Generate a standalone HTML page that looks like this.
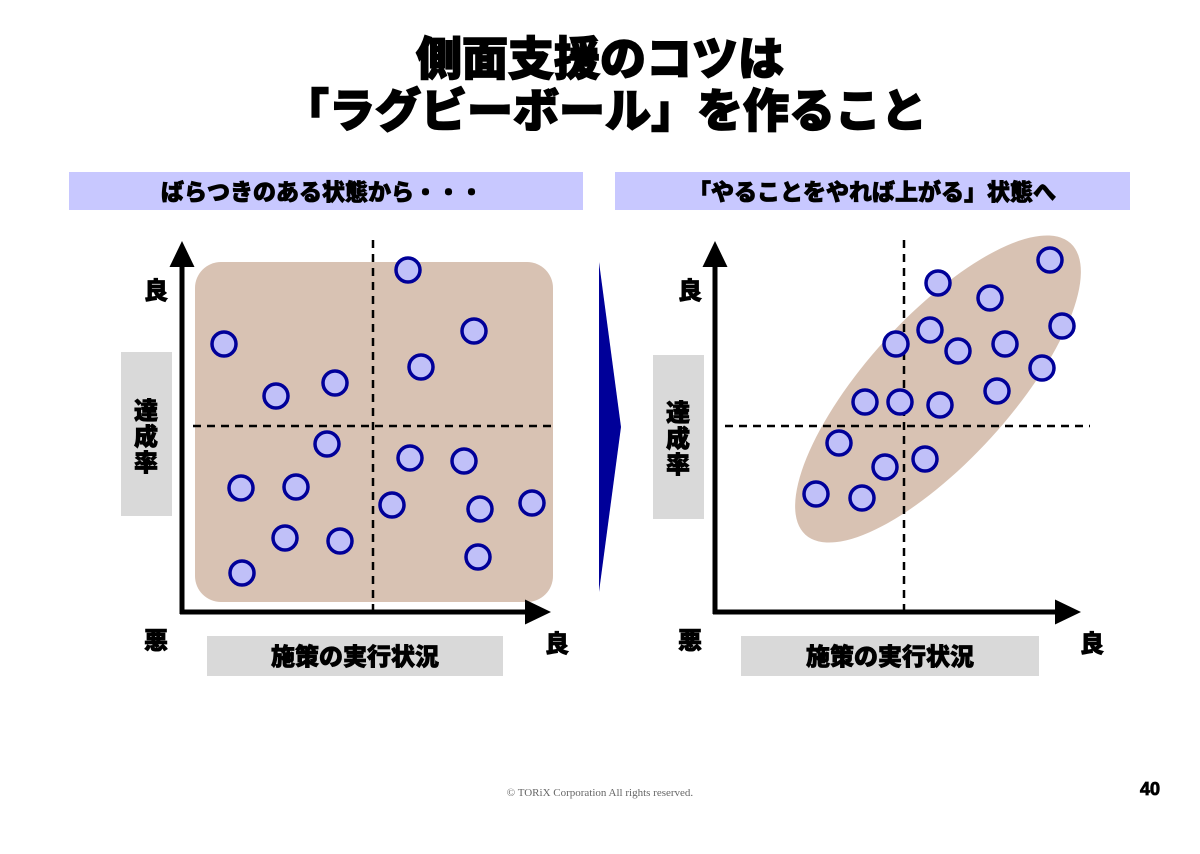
<!DOCTYPE html>
<html><head><meta charset="utf-8"><style>
body{margin:0;width:1200px;height:849px;background:#fff;overflow:hidden}
svg text{font-family:"Liberation Sans","Noto Sans CJK JP",sans-serif;font-weight:900}
.b{stroke:#000;stroke-width:0.8}
</style></head><body>
<svg width="1200" height="849" viewBox="0 0 1200 849" xmlns="http://www.w3.org/2000/svg">
<defs>
<marker id="ah" markerWidth="5.2" markerHeight="5" refX="1" refY="2.5" orient="auto" markerUnits="strokeWidth"><path d="M0,0 L5.2,2.5 L0,5 z" fill="#000"/></marker>
</defs>
<text class="b" x="600" y="75" font-size="46" text-anchor="middle" style="stroke-width:1.5">側面支援のコツは</text>
<text class="b" x="605" y="127" font-size="46" text-anchor="middle" style="stroke-width:1.5">「ラグビーボール」を作ること</text>
<rect x="69" y="172" width="514" height="38" fill="#c8c8ff"/>
<text class="b" x="322" y="200" font-size="23" text-anchor="middle">ばらつきのある状態から・・・</text>
<rect x="615" y="172" width="515" height="38" fill="#c8c8ff"/>
<text class="b" x="872" y="200" font-size="23" text-anchor="middle">「やることをやれば上がる」状態へ</text>

<rect x="195" y="262" width="358" height="340" rx="26" fill="#d8c2b3"/>
<line x1="373" y1="240" x2="373" y2="612" stroke="#000" stroke-width="2.5" stroke-dasharray="8,6"/>
<line x1="193" y1="426" x2="557" y2="426" stroke="#000" stroke-width="2.5" stroke-dasharray="8,6"/>
<line x1="182" y1="614" x2="182" y2="262" stroke="#000" stroke-width="5" marker-end="url(#ah)"/>
<line x1="180" y1="612" x2="530" y2="612" stroke="#000" stroke-width="5" marker-end="url(#ah)"/>
<g fill="#c0c0f8" stroke="#000099" stroke-width="3.5">
<circle cx="224" cy="344" r="12"/><circle cx="408" cy="270" r="12"/><circle cx="474" cy="331" r="12"/><circle cx="276" cy="396" r="12"/><circle cx="335" cy="383" r="12"/><circle cx="421" cy="367" r="12"/><circle cx="327" cy="444" r="12"/><circle cx="410" cy="458" r="12"/><circle cx="464" cy="461" r="12"/><circle cx="241" cy="488" r="12"/><circle cx="296" cy="487" r="12"/><circle cx="392" cy="505" r="12"/><circle cx="480" cy="509" r="12"/><circle cx="532" cy="503" r="12"/><circle cx="285" cy="538" r="12"/><circle cx="340" cy="541" r="12"/><circle cx="478" cy="557" r="12"/><circle cx="242" cy="573" r="12"/>
</g>
<text class="b" x="156" y="299" font-size="24" text-anchor="middle">良</text>
<text class="b" x="156" y="649" font-size="24" text-anchor="middle">悪</text>
<text class="b" x="557" y="652" font-size="24" text-anchor="middle">良</text>
<rect x="121" y="352" width="51" height="164" fill="#d9d9d9"/>
<text class="b" x="146" y="419" font-size="24" text-anchor="middle">達</text>
<text class="b" x="146" y="445" font-size="24" text-anchor="middle">成</text>
<text class="b" x="146" y="471" font-size="24" text-anchor="middle">率</text>
<rect x="207" y="636" width="296" height="40" fill="#d9d9d9"/>
<text class="b" x="355" y="665" font-size="24" text-anchor="middle">施策の実行状況</text>

<polygon points="599,262 621,427 599,592" fill="#000099"/>

<ellipse cx="938" cy="389" rx="197" ry="72" transform="rotate(-47.7 938 389)" fill="#d8c2b3"/>
<line x1="904" y1="240" x2="904" y2="612" stroke="#000" stroke-width="2.5" stroke-dasharray="8,6"/>
<line x1="725" y1="426" x2="1090" y2="426" stroke="#000" stroke-width="2.5" stroke-dasharray="8,6"/>
<line x1="715" y1="614" x2="715" y2="262" stroke="#000" stroke-width="5" marker-end="url(#ah)"/>
<line x1="713" y1="612" x2="1060" y2="612" stroke="#000" stroke-width="5" marker-end="url(#ah)"/>
<g fill="#c0c0f8" stroke="#000099" stroke-width="3.5">
<circle cx="1050" cy="260" r="12"/><circle cx="938" cy="283" r="12"/><circle cx="990" cy="298" r="12"/><circle cx="1062" cy="326" r="12"/><circle cx="930" cy="330" r="12"/><circle cx="896" cy="344" r="12"/><circle cx="958" cy="351" r="12"/><circle cx="1005" cy="344" r="12"/><circle cx="1042" cy="368" r="12"/><circle cx="865" cy="402" r="12"/><circle cx="900" cy="402" r="12"/><circle cx="940" cy="405" r="12"/><circle cx="997" cy="391" r="12"/><circle cx="839" cy="443" r="12"/><circle cx="925" cy="459" r="12"/><circle cx="885" cy="467" r="12"/><circle cx="816" cy="494" r="12"/><circle cx="862" cy="498" r="12"/>
</g>
<text class="b" x="690" y="299" font-size="24" text-anchor="middle">良</text>
<text class="b" x="690" y="649" font-size="24" text-anchor="middle">悪</text>
<text class="b" x="1092" y="652" font-size="24" text-anchor="middle">良</text>
<rect x="653" y="355" width="51" height="164" fill="#d9d9d9"/>
<text class="b" x="678" y="421" font-size="24" text-anchor="middle">達</text>
<text class="b" x="678" y="447" font-size="24" text-anchor="middle">成</text>
<text class="b" x="678" y="473" font-size="24" text-anchor="middle">率</text>
<rect x="741" y="636" width="298" height="40" fill="#d9d9d9"/>
<text class="b" x="890" y="665" font-size="24" text-anchor="middle">施策の実行状況</text>

<text x="600" y="796" font-size="11" text-anchor="middle" style="font-family:'Liberation Serif',serif;font-weight:normal" fill="#666">© TORiX Corporation All rights reserved.</text>
<text class="b" x="1150" y="795" font-size="18" text-anchor="middle">40</text>
</svg>
</body></html>
